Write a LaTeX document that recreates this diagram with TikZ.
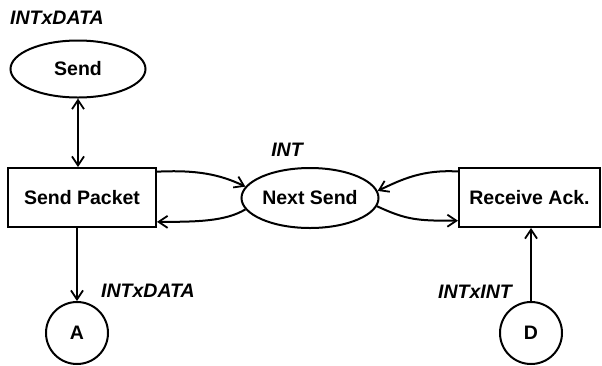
\documentclass[tikz,border=0pt]{standalone}
\usepackage{fontspec}
\setmainfont{Liberation Sans}
\usetikzlibrary{shapes.geometric,arrows.meta}
\tikzset{
  base/.style={draw,line width=2pt,inner sep=0pt,font=\fontsize{19.5}{22}\selectfont\bfseries},
  place/.style={base,ellipse},
  trans/.style={base,rectangle},
  port/.style={base,circle,minimum size=62pt},
  lbl/.style={inner sep=0pt,font=\fontsize{19.5}{22}\selectfont\bfseries\itshape},
  arc/.style={line width=2pt,-{Straight Barb[length=9pt,width=12pt,line width=1.8pt]}},
  darc/.style={line width=2pt,{Straight Barb[length=9pt,width=12pt,line width=1.8pt]}-{Straight Barb[length=9pt,width=12pt,line width=1.8pt]}}
}
\begin{document}
\begin{tikzpicture}[x=1pt,y=-1pt]
\useasboundingbox (0,0) rectangle (602,365);
\node[place,minimum width=135pt,minimum height=57pt] (send) at (78,69) {Send};
\node[trans,minimum width=148pt,minimum height=59pt] (sp) at (82,197.5) {Send Packet};
\node[place,minimum width=137pt,minimum height=60pt] (ns) at (310,198) {Next Send};
\node[trans,minimum width=141pt,minimum height=59pt] (ra) at (529.5,197.5) {Receive Ack.};
\node[port] (A) at (77,333) {A};
\node[port] (D) at (531,333) {D};
\node[lbl] (l1) at (57,18) {INTxDATA};
\node[lbl] (l2) at (287,150) {INT};
\node[lbl] (l3) at (148,291) {INTxDATA};
\node[lbl] (l4) at (475,292) {INTxINT};
\draw[darc] (send.south) -- (send.south |- sp.north);
\draw[arc] (A.north |- sp.south) -- (A.north);
\draw[arc] (D.north) -- (D.north |- ra.south);
\draw[arc] (sp.19) .. controls +(40,-2) and +(-25,-12) .. (ns.170);
\draw[arc] (ns.190) .. controls +(-20,12) and +(40,0) .. (sp.-18);
\draw[arc] (ra.160) .. controls +(-35,-2) and +(25,-12) .. (ns.6);
\draw[arc] (ns.-7) .. controls +(30,14) and +(-40,0) .. (ra.198);
\end{tikzpicture}
\end{document}
